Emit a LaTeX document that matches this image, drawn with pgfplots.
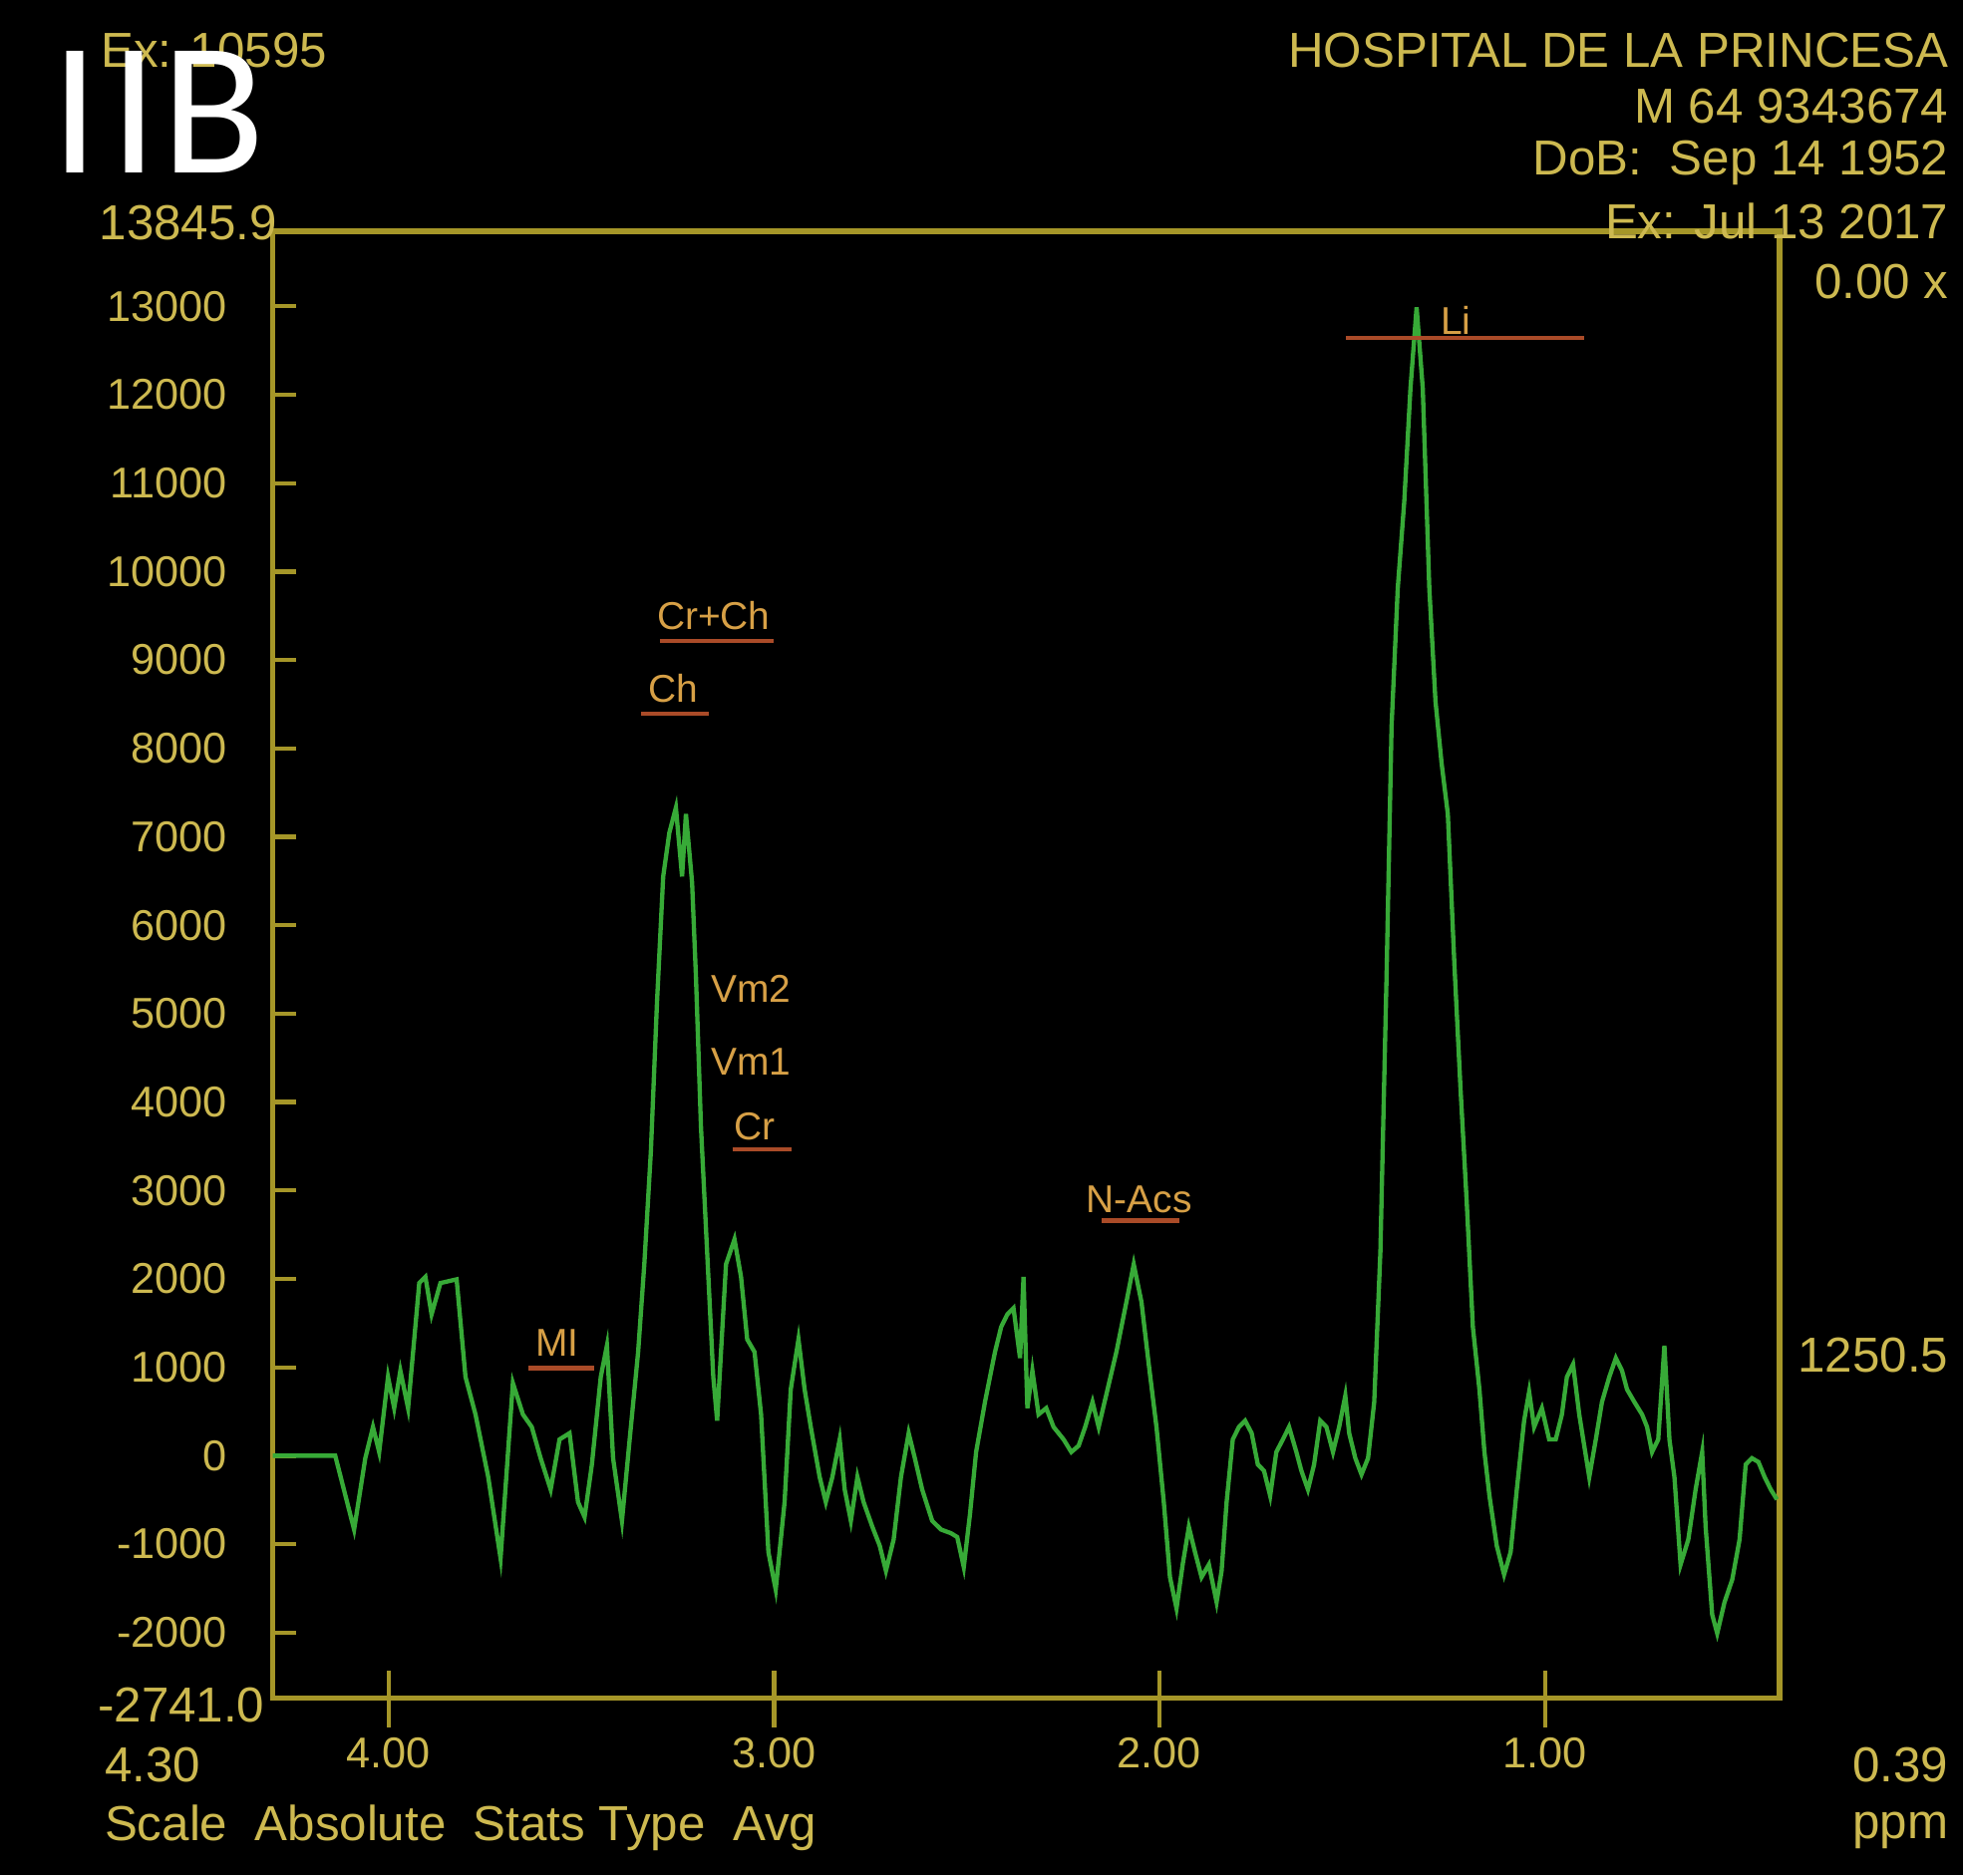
\documentclass[border=0pt]{standalone}
\usepackage{pgfplots}
\pgfplotsset{compat=1.18}
\usepackage{fontspec}
\setmainfont{Liberation Sans}
\newfontfamily\iibfont{Carlito}
\definecolor{axiscol}{RGB}{165,150,40}
\definecolor{txtcol}{RGB}{205,185,80}
\definecolor{specgreen}{RGB}{55,170,55}
\definecolor{metcol}{RGB}{215,160,70}
\definecolor{ulcol}{RGB}{170,75,40}
\newcommand{\hdr}{\fontsize{11.4}{13}\selectfont}
\newcommand{\met}{\fontsize{9}{11}\selectfont}
\begin{document}
\begin{tikzpicture}[x=0.010204cm,y=-0.010204cm]
\path[use as bounding box, fill=black] (0,0) rectangle (1568,1498);
\begin{axis}[
  at={(2.2245cm,-13.847cm)}, anchor=south west,
  scale only axis, width=12.286cm, height=11.959cm,
  xmin=0.39, xmax=4.30, x dir=reverse,
  ymin=-2741, ymax=13845.9,
  scaled y ticks=false, scaled x ticks=false,
  axis line style={draw=axiscol, line width=1.3pt},
  xtick={1,2,3,4}, xticklabels={1.00,2.00,3.00,4.00},
  xtick style={draw=none},
  ytick={-2000,-1000,0,1000,2000,3000,4000,5000,6000,7000,8000,9000,10000,11000,12000,13000},
  yticklabels={-2000,-1000,0,1000,2000,3000,4000,5000,6000,7000,8000,9000,10000,11000,12000,13000},
  ytick style={draw=axiscol, line width=1pt},
  major tick length=0.19cm, tick align=inside,
  xtick pos=bottom, ytick pos=left,
  ticklabel style={text=txtcol, font=\fontsize{10}{12}\selectfont},
  xticklabel style={yshift=-0.2cm},
  yticklabel style={xshift=-0.25cm},
  clip=false,
]
\addplot[specgreen, line width=1pt] coordinates {
(4.300,0) (4.138,0) (4.089,-835) (4.060,-28) (4.040,325) (4.024,42) (4.001,891) (3.985,538)
(3.969,962) (3.949,538) (3.920,1953) (3.904,2023) (3.888,1599) (3.865,1953) (3.823,1995)
(3.800,891) (3.774,467) (3.741,-241) (3.709,-1160) (3.677,821) (3.651,467) (3.628,325)
(3.605,-28) (3.579,-382) (3.556,184) (3.530,255) (3.508,-524) (3.491,-693) (3.472,-99)
(3.449,891) (3.433,1245) (3.417,-28) (3.394,-736) (3.374,184) (3.352,1174) (3.336,2165)
(3.319,3438) (3.303,5136) (3.287,6551) (3.271,7047) (3.254,7330) (3.238,6551) (3.228,7259)
(3.212,6481) (3.202,5419) (3.189,3721) (3.173,2306) (3.157,891) (3.147,396) (3.137,1174)
(3.124,2165) (3.102,2448) (3.085,2023) (3.069,1316) (3.050,1174) (3.033,467) (3.014,-1090)
(2.995,-1514) (2.972,-524) (2.956,750) (2.936,1316) (2.920,750) (2.904,325) (2.881,-241)
(2.865,-524) (2.848,-241) (2.829,184) (2.816,-382) (2.800,-736) (2.783,-241) (2.767,-524)
(2.744,-807) (2.725,-1019) (2.709,-1302) (2.689,-948) (2.670,-241) (2.650,255) (2.634,-28)
(2.615,-382) (2.589,-736) (2.566,-835) (2.540,-877) (2.524,-920) (2.507,-1259) (2.491,-665)
(2.475,42) (2.452,608) (2.426,1174) (2.410,1457) (2.394,1599) (2.378,1670) (2.361,1104)
(2.352,2023) (2.342,538) (2.329,962) (2.313,467) (2.293,538) (2.274,325) (2.248,184)
(2.228,42) (2.209,113) (2.192,325) (2.173,608) (2.157,325) (2.134,750) (2.111,1174)
(2.085,1740) (2.066,2165) (2.046,1740) (2.027,1033) (2.007,325) (1.988,-524) (1.972,-1373)
(1.955,-1726) (1.939,-1231) (1.923,-807) (1.907,-1090) (1.890,-1373) (1.871,-1231) (1.851,-1656)
(1.838,-1302) (1.825,-524) (1.809,184) (1.793,325) (1.777,396) (1.760,255) (1.744,-99)
(1.728,-170) (1.712,-453) (1.696,42) (1.679,184) (1.663,325) (1.644,42) (1.631,-170)
(1.614,-382) (1.598,-99) (1.582,396) (1.566,325) (1.549,42) (1.533,325) (1.517,679)
(1.507,255) (1.491,-28) (1.475,-212) (1.458,-28) (1.442,608) (1.426,2306) (1.410,5419)
(1.397,8249) (1.381,9806) (1.364,10796) (1.348,12070) (1.332,12990) (1.316,12070) (1.299,9806)
(1.283,8532) (1.267,7825) (1.251,7259) (1.234,5561) (1.218,4146) (1.202,2872) (1.186,1457)
(1.169,750) (1.156,42) (1.143,-453) (1.124,-1019) (1.105,-1344) (1.088,-1090) (1.072,-382)
(1.053,396) (1.040,722) (1.027,325) (1.007,538) (0.988,184) (0.971,184) (0.955,467)
(0.942,891) (0.926,1033) (0.910,467) (0.897,113) (0.884,-241) (0.867,184) (0.851,608)
(0.832,891) (0.815,1104) (0.799,962) (0.786,750) (0.767,608) (0.747,467) (0.734,325)
(0.721,42) (0.705,184) (0.689,1245) (0.676,184) (0.663,-241) (0.647,-1231) (0.627,-948)
(0.608,-382) (0.591,42) (0.582,-807) (0.565,-1797) (0.552,-2009) (0.533,-1656) (0.513,-1401)
(0.494,-948) (0.478,-99) (0.462,-28) (0.445,-71) (0.429,-241) (0.413,-382) (0.397,-495)
};
\end{axis}
% x tick marks (centred on the bottom axis line)
\draw[axiscol,line width=1pt] (310.4,1335) -- (310.4,1380);
\draw[axiscol,line width=1pt] (618.3,1335) -- (618.3,1380);
\draw[axiscol,line width=1pt] (926.2,1335) -- (926.2,1380);
\draw[axiscol,line width=1pt] (1234.2,1335) -- (1234.2,1380);
% corner and side labels
\node[anchor=east, text=txtcol, inner sep=0pt] at (222,178) {\hdr 13845.9};
\node[anchor=east, text=txtcol, inner sep=0pt] at (212,1362) {\hdr -2741.0};
\node[anchor=west, text=txtcol, inner sep=0pt] at (83,1410) {\hdr 4.30};
\node[anchor=east, text=txtcol, inner sep=0pt] at (1557,1410) {\hdr 0.39};
\node[anchor=east, text=txtcol, inner sep=0pt] at (1557,1462) {\hdr ppm};
\node[anchor=west, text=txtcol, inner sep=0pt] at (83,1460) {\hdr Scale\ \ Absolute\ \ Stats Type\ \ Avg};
\node[anchor=east, text=txtcol, inner sep=0pt] at (1557,225) {\hdr 0.00 x};
\node[anchor=east, text=txtcol, inner sep=0pt] at (1557,1083) {\hdr 1250.5};
% header
\node[anchor=east, text=txtcol, inner sep=0pt] at (1557,40) {\hdr HOSPITAL DE LA PRINCESA};
\node[anchor=east, text=txtcol, inner sep=0pt] at (1557,85) {\hdr M 64 9343674};
\node[anchor=east, text=txtcol, inner sep=0pt] at (1557,130) {\hdr DoB:\ \ Sep 14 1952};
\node[anchor=east, text=txtcol, inner sep=0pt] at (1557,177) {\hdr Ex: Jul 13 2017};
\node[anchor=west, text=txtcol, inner sep=0pt] at (80,40) {\hdr Ex: 10595};
% metabolite labels
\node[text=metcol, inner sep=0pt] at (570,492) {\met Cr+Ch};
\draw[ulcol, line width=1pt] (527,512) -- (618,512);
\node[text=metcol, inner sep=0pt] at (538,550) {\met Ch};
\draw[ulcol, line width=1pt] (512,570) -- (566,570);
\node[text=metcol, inner sep=0pt] at (600,790) {\met Vm2};
\node[text=metcol, inner sep=0pt] at (600,848) {\met Vm1};
\node[text=metcol, inner sep=0pt] at (603,900) {\met Cr};
\draw[ulcol, line width=1pt] (585,918) -- (632,918);
\node[text=metcol, inner sep=0pt] at (445,1073) {\met MI};
\draw[ulcol, line width=1pt] (422,1093) -- (475,1093);
\node[text=metcol, inner sep=0pt] at (910,958) {\met N-Acs};
\draw[ulcol, line width=1pt] (880,975) -- (942,975);
\node[text=metcol, inner sep=0pt] at (1163,256) {\met Li};
\draw[ulcol, line width=1pt] (1075,270) -- (1265,270);
% panel label
\node[anchor=base west, text=white, inner sep=0pt] at (40,138) {\iibfont\fontsize{44}{50}\selectfont I\kern0.06em I\kern0.02em B};
\end{tikzpicture}
\end{document}
